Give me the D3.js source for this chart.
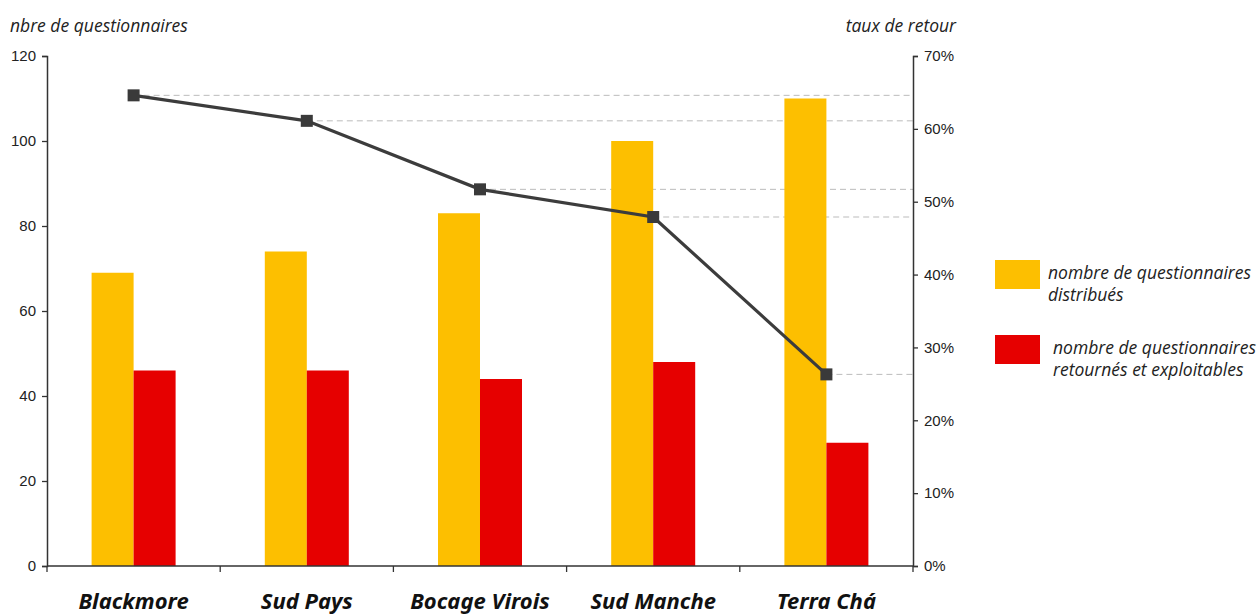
<!DOCTYPE html>
<html><head><meta charset="utf-8">
<script src="https://cdn.jsdelivr.net/npm/d3@7/dist/d3.min.js"></script>
<style>
body{margin:0;background:#fff;}
svg{display:block;}
.tick text{font-family:"Liberation Sans",Arial,sans-serif;font-size:15px;fill:#222;}
</style></head>
<body>
<svg id="c" width="1258" height="616"></svg>
<script>
const categories = ["Blackmore","Sud Pays","Bocage Virois","Sud Manche","Terra Chá"];
const distribues = [69, 74, 83, 100, 110];
const retournes = [46, 46, 44, 48, 29];
const tauxRetour = [0.646, 0.611, 0.517, 0.479, 0.263];
const leftTicks = [0,20,40,60,80,100,120];
const rightTicks = [0,0.1,0.2,0.3,0.4,0.5,0.6,0.7];
const seriesNames = ["nombre de questionnaires|distribués","nombre de questionnaires|retournés et exploitables"];
const colors = ["#FDBF00","#E60000"];

const svg = d3.select("#c");
const L = 47, R = 913, T = 56, B = 566;

const x = d3.scaleBand().domain(categories).range([L,R]).paddingInner(0).paddingOuter(0);
const yL = d3.scaleLinear().domain([0,120]).range([B,T]);
const yR = d3.scaleLinear().domain([0,0.7]).range([B,T]);
const barW = 42;

// dashed reference lines
svg.append("g").selectAll("line").data(tauxRetour).join("line")
  .attr("x1",(d,i)=>x(categories[i])+x.bandwidth()/2)
  .attr("x2",R)
  .attr("y1",d=>yR(d)).attr("y2",d=>yR(d))
  .attr("stroke","#bbb").attr("stroke-width",1).attr("stroke-dasharray","6,4");

// bars
svg.append("g").selectAll("rect").data(distribues).join("rect")
  .attr("x",(d,i)=>x(categories[i])+x.bandwidth()/2-barW)
  .attr("y",d=>yL(d)).attr("width",barW).attr("height",d=>B-yL(d))
  .attr("fill",colors[0]);
svg.append("g").selectAll("rect").data(retournes).join("rect")
  .attr("x",(d,i)=>x(categories[i])+x.bandwidth()/2)
  .attr("y",d=>yL(d)).attr("width",barW).attr("height",d=>B-yL(d))
  .attr("fill",colors[1]);

// axes
const axL = svg.append("g").attr("transform",`translate(${L},0)`)
  .call(d3.axisLeft(yL).tickValues(leftTicks).tickSize(5).tickPadding(6));
const axR = svg.append("g").attr("transform",`translate(${R},0)`)
  .call(d3.axisRight(yR).tickValues(rightTicks).tickFormat(d3.format(".0%")).tickSize(5).tickPadding(6));
[axL,axR].forEach(a=>{a.select(".domain").attr("stroke","#333").attr("stroke-width",1.5);a.selectAll(".tick line").attr("stroke","#333").attr("stroke-width",1.3);});

// x axis
const gx = svg.append("g");
gx.append("line").attr("x1",L).attr("x2",R).attr("y1",B).attr("y2",B).attr("stroke","#333").attr("stroke-width",1.5);
const bounds = categories.map(c=>x(c)).concat([R]);
gx.selectAll("line.tk").data(bounds).join("line").attr("class","tk")
  .attr("x1",d=>d).attr("x2",d=>d).attr("y1",B).attr("y2",B+6).attr("stroke","#333").attr("stroke-width",1.3);
gx.selectAll("text").data(categories).join("text")
  .attr("x",d=>x(d)+x.bandwidth()/2).attr("y",609)
  .attr("text-anchor","middle")
  .style("font-family","'Noto Sans',sans-serif").style("font-size","22px")
  .style("font-weight","bold").style("font-style","italic").style("fill","#111")
  .text(d=>d);

// line
const pts = tauxRetour.map((d,i)=>[x(categories[i])+x.bandwidth()/2, yR(d)]);
svg.append("path").attr("d",d3.line()(pts)).attr("fill","none").attr("stroke","#3c3c3c").attr("stroke-width",3.2);
svg.append("g").selectAll("rect").data(pts).join("rect")
  .attr("x",d=>d[0]-6).attr("y",d=>d[1]-6).attr("width",12).attr("height",12).attr("fill","#3a3a3a");

// axis titles
const titleStyle = s=>s.style("font-family","'Open Sans',sans-serif").style("font-size","17.5px").style("font-style","italic").style("fill","#222");
svg.append("text").attr("x",10).attr("y",32).text("nbre de questionnaires").call(titleStyle);
svg.append("text").attr("x",956).attr("y",32).attr("text-anchor","end").text("taux de retour").call(titleStyle);

// legend
const lg = svg.append("g");
const legY = [260,335];
const legTx = [1048,1053];
seriesNames.forEach((n,i)=>{
  lg.append("rect").attr("x",995).attr("y",legY[i]).attr("width",45).attr("height",29).attr("fill",colors[i]);
  const parts = n.split("|");
  parts.forEach((p,j)=>{
    lg.append("text").attr("x",legTx[i]).attr("y",legY[i]+19+j*22).text(p).call(titleStyle);
  });
});
</script>
</body></html>
